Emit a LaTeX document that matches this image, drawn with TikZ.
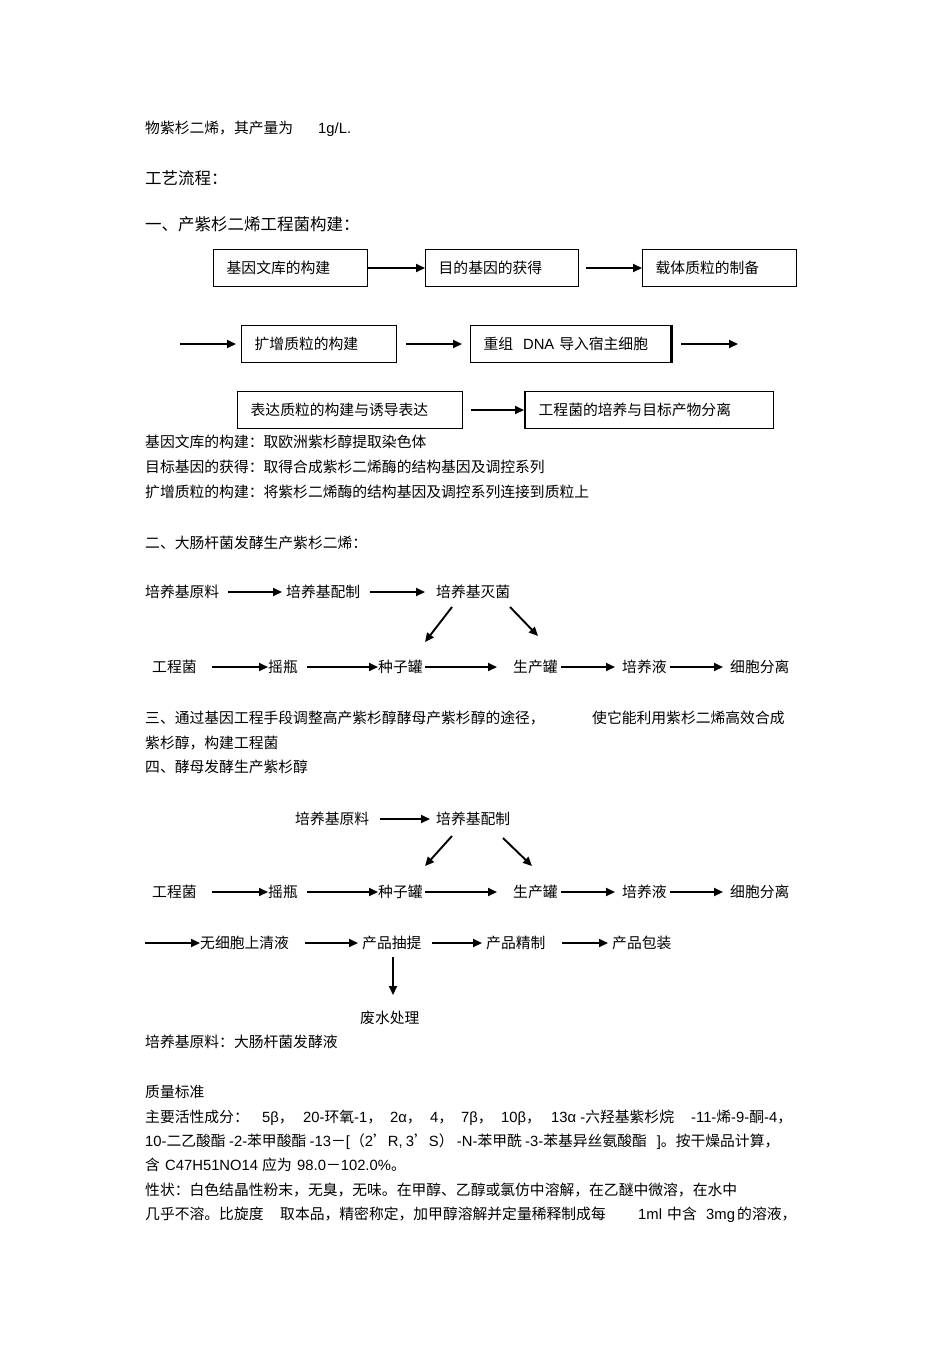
\documentclass[tikz,border=0pt]{standalone}
\usepackage{fontspec}
\setmainfont{Noto Sans CJK SC}
\newfontfamily\lat{Liberation Sans}
\newcommand\ltn[1]{{\lat #1}}
\usetikzlibrary{arrows.meta}
\begin{document}
\begin{tikzpicture}[x=1pt,y=-1pt,
  txt/.style={anchor=base west,yshift=-5.5pt,inner sep=0pt,font=\fontsize{14.8}{17}\selectfont},
  hd/.style={anchor=base west,yshift=-6.2pt,inner sep=0pt,font=\fontsize{16.5}{19}\selectfont},
  box/.style={draw,line width=1.3pt,anchor=west,minimum height=37pt,inner xsep=13pt,inner ysep=0pt,align=left,font=\fontsize{14.8}{17}\selectfont},
  arr/.style={line width=1.9pt,-{Triangle[length=9pt,width=8pt]}}]
\useasboundingbox (0,0) rectangle (950,1345);
\fill[white] (0,0) rectangle (950,1345);

% top text
\node[txt] (l1) at (145,128) {物紫杉二烯，其产量为};
\node[txt] (l1b) at (318,128) {\ltn{1g/L.}};
\node[hd] (h1) at (145,178) {工艺流程：};
\node[hd] (h2) at (145,224) {一、产紫杉二烯工程菌构建：};

% flow 1
\node[box,text width=128pt] (b1) at (213,268) {基因文库的构建};
\node[box,text width=127pt] (b2) at (425,268) {目的基因的获得};
\node[box,text width=128pt] (b3) at (642,268) {载体质粒的制备};
\node[box,text width=129pt] (b4) at (241,344) {扩增质粒的构建};
\node[box,text width=174pt] (b5) at (470,344) {重组\ \ \ltn{DNA} 导入宿主细胞};
\node[box,text width=199pt] (b6) at (237,410) {表达质粒的构建与诱导表达};
\node[box,text width=222pt] (b7) at (525,410) {工程菌的培养与目标产物分离};
\draw[line width=2.4pt] (b5.north east) -- (b5.south east);
\draw[line width=2.4pt] (b7.north west) -- (b7.south west);
\coordinate (s2) at (180,344);
\coordinate (e2) at (738,344);
\draw[arr] (b1.east) -- (b2.west);
\draw[arr] ([xshift=7pt]b2.east) -- (b3.west);
\draw[arr] (s2) -- ([xshift=-5pt]b4.west);
\draw[arr] ([xshift=9pt]b4.east) -- ([xshift=-8pt]b5.west);
\draw[arr] ([xshift=10pt]b5.east) -- (e2);
\draw[arr] ([xshift=8pt]b6.east) -- ([xshift=-1pt]b7.west);

\node[txt] (d1) at (145,442) {基因文库的构建：取欧洲紫杉醇提取染色体};
\node[txt] (d2) at (145,467) {目标基因的获得：取得合成紫杉二烯酶的结构基因及调控系列};
\node[txt] (d3) at (145,492) {扩增质粒的构建：将紫杉二烯酶的结构基因及调控系列连接到质粒上};

% flow 2
\node[txt] (h3) at (145,543) {二、大肠杆菌发酵生产紫杉二烯：};
\node[txt] (a1) at (145,592) {培养基原料};
\node[txt] (a2) at (286,592) {培养基配制};
\node[txt] (a3) at (436,592) {培养基灭菌};
\node[txt] (r1) at (152,667) {工程菌};
\node[txt] (r2) at (268,667) {摇瓶};
\node[txt] (r3) at (378,667) {种子罐};
\node[txt] (r4) at (513,667) {生产罐};
\node[txt] (r5) at (622,667) {培养液};
\node[txt] (r6) at (730,667) {细胞分离};
\draw[arr] ([xshift=83pt]a1.base west) ++(0,-5.5) -- ([xshift=-4pt,yshift=5.5pt]a2.base west);
\draw[arr] ([xshift=84pt,yshift=5.5pt]a2.base west) -- ([xshift=-11pt,yshift=5.5pt]a3.base west);
\draw[arr] ([shift={(16,9.5)}]a3.base west) -- ([shift={(47,-30.5)}]r3.base west);
\draw[arr] ([shift={(74,9.5)}]a3.base west) -- ([shift={(25,-36.5)}]r4.base west);
\draw[arr] ([xshift=60pt,yshift=5.5pt]r1.base west) -- ([yshift=5.5pt]r2.base west);
\draw[arr] ([xshift=39pt,yshift=5.5pt]r2.base west) -- ([yshift=5.5pt]r3.base west);
\draw[arr] ([xshift=47pt,yshift=5.5pt]r3.base west) -- ([xshift=-16pt,yshift=5.5pt]r4.base west);
\draw[arr] ([xshift=48pt,yshift=5.5pt]r4.base west) -- ([xshift=-7pt,yshift=5.5pt]r5.base west);
\draw[arr] ([xshift=48pt,yshift=5.5pt]r5.base west) -- ([xshift=-7pt,yshift=5.5pt]r6.base west);

% section 3/4
\node[txt] (t3a) at (145,718) {三、通过基因工程手段调整高产紫杉醇酵母产紫杉醇的途径，};
\node[txt] (t3b) at (592,718) {使它能利用紫杉二烯高效合成};
\node[txt] (t3c) at (145,743) {紫杉醇，构建工程菌};
\node[txt] (h4) at (145,767) {四、酵母发酵生产紫杉醇};

% flow 4
\node[txt] (c1) at (295,819) {培养基原料};
\node[txt] (c2) at (436,819) {培养基配制};
\node[txt] (g1) at (152,892) {工程菌};
\node[txt] (g2) at (268,892) {摇瓶};
\node[txt] (g3) at (378,892) {种子罐};
\node[txt] (g4) at (513,892) {生产罐};
\node[txt] (g5) at (622,892) {培养液};
\node[txt] (g6) at (730,892) {细胞分离};
\coordinate (s4) at (145,943);
\node[txt] (e1) at (200,943) {无细胞上清液};
\node[txt] (e2n) at (362,943) {产品抽提};
\node[txt] (e3) at (486,943) {产品精制};
\node[txt] (e4) at (612,943) {产品包装};
\node[txt] (f) at (360,1018) {废水处理};
\draw[arr] ([xshift=85pt,yshift=5.5pt]c1.base west) -- ([xshift=-6pt,yshift=5.5pt]c2.base west);
\draw[arr] ([shift={(16,11.5)}]c2.base west) -- ([shift={(47,-31.5)}]g3.base west);
\draw[arr] ([shift={(67,13.5)}]c2.base west) -- ([shift={(19,-31.5)}]g4.base west);
\draw[arr] ([xshift=60pt,yshift=5.5pt]g1.base west) -- ([yshift=5.5pt]g2.base west);
\draw[arr] ([xshift=39pt,yshift=5.5pt]g2.base west) -- ([yshift=5.5pt]g3.base west);
\draw[arr] ([xshift=47pt,yshift=5.5pt]g3.base west) -- ([xshift=-16pt,yshift=5.5pt]g4.base west);
\draw[arr] ([xshift=48pt,yshift=5.5pt]g4.base west) -- ([xshift=-7pt,yshift=5.5pt]g5.base west);
\draw[arr] ([xshift=48pt,yshift=5.5pt]g5.base west) -- ([xshift=-7pt,yshift=5.5pt]g6.base west);
\draw[arr] (s4) -- ([yshift=5.5pt]e1.base west);
\draw[arr] ([xshift=105pt,yshift=5.5pt]e1.base west) -- ([xshift=-4pt,yshift=5.5pt]e2n.base west);
\draw[arr] ([xshift=70pt,yshift=5.5pt]e2n.base west) -- ([xshift=-4pt,yshift=5.5pt]e3.base west);
\draw[arr] ([xshift=76pt,yshift=5.5pt]e3.base west) -- ([xshift=-4pt,yshift=5.5pt]e4.base west);
\draw[arr] ([shift={(31,8.5)}]e2n.base west) -- ([shift={(33,-28.5)}]f.base west);

% bottom text
\node[txt] (p1) at (145,1042) {培养基原料：大肠杆菌发酵液};
\node[txt] (p2) at (145,1092) {质量标准};

\node[txt] (q1a) at (145,1117) {主要活性成分：};
\node[txt] (q1b) at (262,1117) {\ltn{5β}，};
\node[txt] (q1c) at (303,1117) {\ltn{20-}环氧\ltn{-1}，};
\node[txt] (q1d) at (390,1117) {\ltn{2α}，};
\node[txt] (q1e) at (430,1117) {\ltn{4}，};
\node[txt] (q1f) at (461,1117) {\ltn{7β}，};
\node[txt] (q1g) at (501,1117) {\ltn{10β}，};
\node[txt] (q1h) at (551,1117) {\ltn{13α -}六羟基紫杉烷};
\node[txt] (q1i) at (691,1117) {\ltn{-11-}烯\ltn{-9-}酮\ltn{-4}，};

\node[txt] (q2) at (145,1141) {\ltn{10-}二乙酸酯\ \ltn{-2-}苯甲酸酯\ \ltn{-13}－\ltn{[}（\ltn{2}’\ltn{R,}\ \ltn{3}’\ltn{S}）\ \ltn{-N-}苯甲酰\ \ltn{-3-}苯基异丝氨酸酯\ \ \ \ltn{]}。按干燥品计算，};

\node[txt] (q3a) at (145,1165) {含};
\node[txt] (q3b) at (165,1165) {\ltn{C47H51NO14}};
\node[txt] (q3c) at (262,1165) {应为};
\node[txt] (q3d) at (297,1165) {\ltn{98.0}－\ltn{102.0\%}。};

\node[txt] (q4) at (145,1190) {性状：白色结晶性粉末，无臭，无味。在甲醇、乙醇或氯仿中溶解，在乙醚中微溶，在水中};

\node[txt] (q5a) at (145,1214) {几乎不溶。比旋度};
\node[txt] (q5b) at (280,1214) {取本品，精密称定，加甲醇溶解并定量稀释制成每};
\node[txt] (q5c) at (638,1214) {\ltn{1ml}};
\node[txt] (q5d) at (667,1214) {中含};
\node[txt] (q5e) at (706,1214) {\ltn{3mg}};
\node[txt] (q5f) at (737,1214) {的溶液，};
\end{tikzpicture}
\end{document}
